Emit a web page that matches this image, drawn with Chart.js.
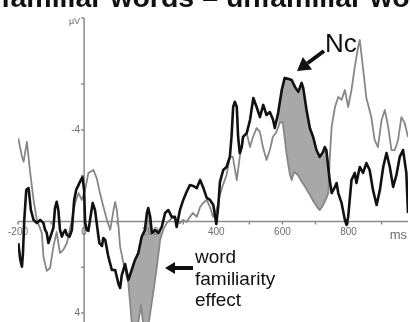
<!DOCTYPE html>
<html>
<head>
<meta charset="utf-8">
<script src="https://cdn.jsdelivr.net/npm/chart.js@4.4.0/dist/chart.umd.min.js"></script>
<style>
  html, body { margin: 0; padding: 0; background: #fff; }
  #wrap { width: 410px; height: 322px; overflow: hidden; }
  canvas { display: block; }
</style>
</head>
<body>
<div id="wrap"><canvas id="erp-chart" width="410" height="322"></canvas></div>
<script>
// ERP difference waves, ms vs µV (negative up)
const familiarTimes = [
  -199, -193, -188, -185, -181, -175, -168, -161, -153, -143,
  -133, -123, -118, -113, -108, -98, -93, -88, -83, -78,
  -73, -67, -63, -57, -52, -44, -37, -30, -24, -17,
  -10, -5, 0, 3, 8, 13, 18, 26, 33, 40,
  46, 54, 58, 64, 73, 84, 94, 104, 109, 114,
  124, 134, 144, 154, 164, 174, 184, 190, 194, 200,
  205, 215, 225, 235, 245, 255, 265, 275, 280, 290,
  300, 310, 320, 330, 341, 351, 361, 371, 381, 391,
  400, 406, 411, 421, 431, 441, 446, 451, 456, 462,
  466, 471, 477, 481, 492, 502, 512, 522, 532, 542,
  552, 562, 572, 577, 587, 598, 607, 617, 628, 638,
  648, 658, 663, 673, 683, 693, 703, 713, 723, 728,
  733, 743, 749, 759, 764, 769, 779, 789, 794, 799,
  809, 819, 824, 834, 844, 854, 864, 874, 885, 895,
  905, 915, 925, 935, 945, 955, 965, 975, 980
];
const familiarValues = [
  0.95, 1.68, 1.97, 1.38, -0.07, -1.38, -1.46, -0.50, -0.07, 0.07,
  -0.07, 0.07, 0.37, 0.50, 0.94, 0.50, 0.28, -0.59, -0.86, -0.50,
  0.37, 0.66, 0.50, 0.37, 0.59, 0.66, 0.37, -0.94, -1.38, -1.59,
  -1.81, -1.94, -1.38, 0.02, 0.37, 0.41, -0.07, -0.81, -0.50, 0.28,
  0.94, 1.07, 0.72, 0.81, 1.51, 2.12, 2.12, 2.73, 2.90, 2.34,
  1.86, 2.55, 2.12, 1.68, 1.38, 0.68, 0.37, -0.37, -0.59, -0.20,
  0.50, 0.37, 0.50, 0.24, -0.37, -0.50, -0.20, -0.20, 0.24, -0.50,
  -0.94, -1.29, -1.59, -1.55, -1.46, -1.81, -1.46, -1.03, -0.94, -0.72,
  0.11, -0.68, -1.72, -2.25, -2.38, -2.82, -3.69, -5.00, -5.23, -5.00,
  -3.69, -2.99, -3.25, -3.69, -3.86, -4.43, -5.39, -5.00, -4.56, -5.09,
  -4.65, -4.78, -4.43, -4.08, -4.74, -5.74, -6.27, -6.23, -6.18, -5.88,
  -5.66, -6.05, -5.83, -4.87, -4.08, -3.69, -3.12, -2.82, -3.04, -3.25,
  -3.12, -1.81, -1.24, -1.51, -1.68, -1.24, -0.81, -0.07, 0.15, -0.20,
  -1.81, -2.12, -1.68, -2.38, -2.12, -2.55, -2.25, -1.38, -0.72, -1.38,
  -2.38, -2.99, -2.38, -1.51, -2.03, -2.82, -3.12, -2.12, -0.37
];
const unfamiliarTimes = [
  -199, -188, -183, -173, -163, -153, -143, -128, -123, -113,
  -103, -93, -83, -73, -63, -52, -37, -27, -17, -7,
  3, 13, 28, 38, 48, 57, 69, 79, 89, 94,
  99, 104, 109, 119, 129, 134, 144, 154, 163, 172,
  178, 187, 196, 209, 220, 230, 239, 250, 260, 269,
  280, 290, 299, 310, 320, 329, 341, 351, 360, 371,
  381, 390, 401, 411, 420, 431, 441, 450, 462, 471,
  481, 492, 502, 511, 522, 532, 541, 552, 562, 571,
  582, 592, 601, 613, 623, 628, 635, 647, 659, 671,
  683, 695, 707, 713, 722, 731, 739, 743, 749, 759,
  769, 779, 789, 799, 809, 819, 829, 834, 844, 854,
  869, 879, 889, 900, 910, 920, 930, 940, 950, 960,
  970, 980
];
const unfamiliarValues = [
  -3.63, -2.84, -2.61, -3.48, -2.12, -0.94, -0.07, 0.50, 1.54, 2.16,
  2.03, 1.11, 0.46, 1.38, 1.24, 0.94, -0.07, -0.81, -1.24, -0.94,
  -1.38, -2.12, -2.25, -1.90, -1.24, -0.72, -0.07, 0.37, -0.50, -0.85,
  -0.50, 0.20, 1.11, 1.81, 2.42, 2.69, 4.39, 4.96, 4.52, 3.65,
  4.39, 4.83, 4.39, 3.12, 1.99, 0.81, 0.37, 0.07, -0.07, -0.20,
  -0.07, 0.07, -0.07, 0.02, -0.20, -0.37, -0.20, -0.63, -0.81, -0.94,
  -0.63, -0.20, -0.50, -1.16, -1.59, -2.03, -2.82, -2.82, -1.81, -2.82,
  -3.69, -3.86, -3.25, -3.69, -4.08, -3.91, -3.25, -2.69, -3.12, -3.69,
  -3.91, -4.30, -4.35, -2.90, -2.03, -1.81, -2.16, -2.03, -1.72, -1.46,
  -1.16, -0.85, -0.59, -0.50, -0.68, -0.94, -1.24, -2.69, -4.13, -5.00,
  -5.44, -5.31, -5.74, -5.00, -5.74, -6.75, -7.62, -7.93, -6.70, -5.39,
  -4.56, -3.56, -3.25, -4.43, -4.87, -4.13, -3.12, -3.12, -3.56, -4.56,
  -4.30, -3.69
];

// shaded effect windows (ms)
const effectWindows = [[125, 240], [585, 745]];

const xTickValues = [-200, -100, 0, 100, 200, 300, 400, 500, 600, 700, 800, 900];
const xTickLabels = [-200, 0, 200, 400, 600, 800];
const yTickValues = [-6, -4, -2, 2, 4];
const yTickLabels = [-4, 4];

const toPoints = (times, values) => times.map((t, i) => ({ x: t, y: values[i] }));
const familiarPoints = toPoints(familiarTimes, familiarValues);
const unfamiliarPoints = toPoints(unfamiliarTimes, unfamiliarValues);

const shade = 'rgba(115,115,115,0.62)';
const labelFont = '"Liberation Sans", Arial, sans-serif';

const fillSets = effectWindows.map((w, i) => ({
  label: 'effect ' + (i + 1),
  data: familiarPoints.filter(p => p.x >= w[0] && p.x <= w[1]),
  borderWidth: 0,
  borderColor: 'rgba(0,0,0,0)',
  backgroundColor: shade,
  fill: { target: 1, above: shade, below: shade },
  order: 2 + i
}));

// axes drawn through the scales, crossing at zero like the original figure
const erpAxes = {
  id: 'erpAxes',
  beforeDatasetsDraw(chart) {
    const { ctx, chartArea } = chart;
    const x = chart.scales.x, y = chart.scales.y;
    const x0 = x.getPixelForValue(0);
    const y0 = y.getPixelForValue(0);
    ctx.save();
    ctx.strokeStyle = '#8c8c8c';
    ctx.lineWidth = 1.5;
    ctx.beginPath();
    ctx.moveTo(chartArea.left, y0);
    ctx.lineTo(chartArea.right, y0);
    ctx.moveTo(x0, chartArea.top + 1);
    ctx.lineTo(x0, chartArea.bottom);
    ctx.moveTo(x0 - 3, chartArea.top + 1);
    ctx.lineTo(x0, chartArea.top + 1);
    xTickValues.forEach(v => {
      const px = x.getPixelForValue(v);
      ctx.moveTo(px, y0);
      ctx.lineTo(px, y0 + 3);
    });
    yTickValues.forEach(v => {
      const py = y.getPixelForValue(v);
      ctx.moveTo(x0 - 3, py);
      ctx.lineTo(x0, py);
    });
    ctx.stroke();

    ctx.fillStyle = '#6e6e6e';
    ctx.font = '10px ' + labelFont;
    ctx.textAlign = 'center';
    ctx.textBaseline = 'middle';
    xTickLabels.forEach(v => ctx.fillText(String(v), x.getPixelForValue(v), y0 + 11));
    ctx.textAlign = 'right';
    yTickLabels.forEach(v => ctx.fillText(String(v), x0 - 4, y.getPixelForValue(v)));
    ctx.font = '9px ' + labelFont;
    ctx.fillText('µV', x0 - 4, chartArea.top + 5);
    ctx.font = '13px ' + labelFont;
    ctx.fillText('ms', chartArea.right - 1, y0 + 14);
    ctx.restore();
  }
};

function drawArrow(ctx, fromX, fromY, toX, toY, head, width) {
  const a = Math.atan2(toY - fromY, toX - fromX);
  const bx = toX - head * Math.cos(a), by = toY - head * Math.sin(a);
  ctx.lineWidth = width;
  ctx.beginPath();
  ctx.moveTo(fromX, fromY);
  ctx.lineTo(bx, by);
  ctx.stroke();
  ctx.beginPath();
  ctx.moveTo(toX, toY);
  ctx.lineTo(bx + head * 0.6 * Math.sin(a), by - head * 0.6 * Math.cos(a));
  ctx.lineTo(bx - head * 0.6 * Math.sin(a), by + head * 0.6 * Math.cos(a));
  ctx.closePath();
  ctx.fill();
}

const erpNotes = {
  id: 'erpNotes',
  afterDraw(chart) {
    const ctx = chart.ctx;
    ctx.save();
    ctx.fillStyle = '#111';
    ctx.strokeStyle = '#111';
    ctx.textAlign = 'left';
    ctx.textBaseline = 'alphabetic';
    // title, mostly cut off at the top edge
    ctx.font = 'bold 28.5px ' + labelFont;
    ctx.fillText('familiar words – unfamiliar words', 1, 7);

    ctx.font = '26px ' + labelFont;
    ctx.fillText('Nc', 325, 52);
    drawArrow(ctx, 324, 51, 297, 71, 13, 4);

    ctx.font = '19px ' + labelFont;
    ctx.fillText('word', 195, 263);
    ctx.fillText('familiarity', 195, 285);
    ctx.fillText('effect', 195, 306);
    drawArrow(ctx, 193, 268, 165, 268, 10, 4);
    ctx.restore();
  }
};

const ctx = document.getElementById('erp-chart').getContext('2d');
new Chart(ctx, {
  type: 'line',
  data: {
    datasets: [
      {
        label: 'familiar words',
        data: familiarPoints,
        borderColor: '#111111',
        borderWidth: 2.6,
        fill: false,
        order: 0
      },
      {
        label: 'unfamiliar words',
        data: unfamiliarPoints,
        borderColor: '#878787',
        borderWidth: 1.8,
        fill: false,
        order: 1
      },
      ...fillSets
    ]
  },
  options: {
    responsive: false,
    devicePixelRatio: 1,
    animation: false,
    layout: { padding: { left: 18, right: 2, top: 17, bottom: 0 } },
    plugins: {
      legend: { display: false },
      tooltip: { enabled: false }
    },
    elements: {
      point: { radius: 0 },
      line: { tension: 0, borderJoinStyle: 'round' }
    },
    scales: {
      x: { type: 'linear', min: -200, max: 980, display: false },
      y: { min: -8.93, max: 4.39, reverse: true, display: false }
    }
  },
  plugins: [erpAxes, erpNotes]
});
</script>
</body>
</html>
